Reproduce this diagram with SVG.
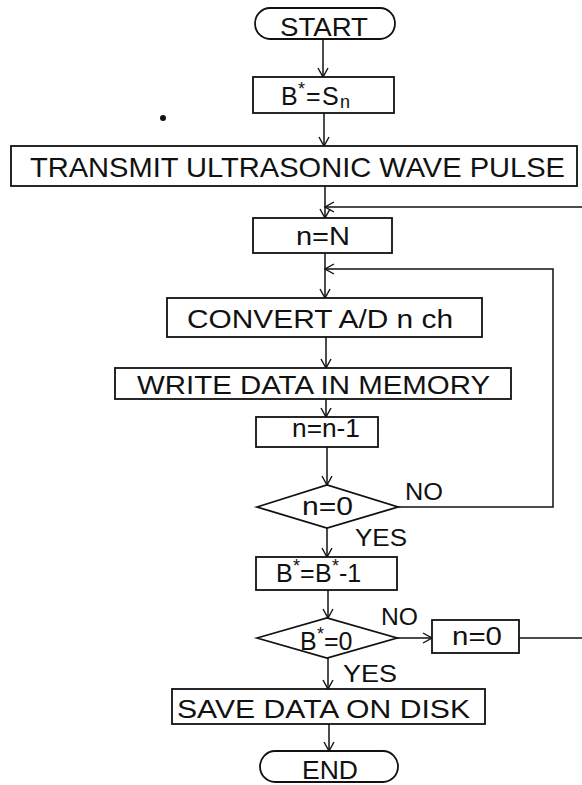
<svg xmlns="http://www.w3.org/2000/svg" width="582" height="785" viewBox="0 0 582 785">
<defs>
<marker id="arr" markerWidth="12" markerHeight="12" refX="10" refY="6" orient="auto" markerUnits="userSpaceOnUse">
<path d="M1,1 L10,6 L1,11" fill="none" stroke="#111" stroke-width="1.4"/>
</marker>
<style>
.box{fill:#fff;stroke:#111;stroke-width:1.8}
.ln{fill:none;stroke:#111;stroke-width:1.5}
.t{font-family:"Liberation Sans",Arial,sans-serif;font-size:25px;fill:#111}
.lbl{font-family:"Liberation Sans",Arial,sans-serif;font-size:24px;fill:#111}
.sup{font-size:18px}
</style>
</defs>
<rect width="582" height="785" fill="#fff"/>
<circle cx="163" cy="118" r="3" fill="#111"/>

<g id="connectors">
<line class="ln" x1="323" y1="39" x2="323" y2="77" marker-end="url(#arr)"/>
<line class="ln" x1="324" y1="113" x2="324" y2="146" marker-end="url(#arr)"/>
<line class="ln" x1="325" y1="186" x2="325" y2="218" marker-end="url(#arr)"/>
<line class="ln" x1="582" y1="207" x2="325" y2="207" marker-end="url(#arr)"/>
<line class="ln" x1="325" y1="253" x2="325" y2="298" marker-end="url(#arr)"/>
<polyline class="ln" points="398,507 553,507 553,269 325,269" marker-end="url(#arr)"/>
<line class="ln" x1="326" y1="337" x2="326" y2="368" marker-end="url(#arr)"/>
<line class="ln" x1="326" y1="399" x2="326" y2="417" marker-end="url(#arr)"/>
<line class="ln" x1="327" y1="447" x2="327" y2="485" marker-end="url(#arr)"/>
<line class="ln" x1="327" y1="528" x2="327" y2="557" marker-end="url(#arr)"/>
<line class="ln" x1="328" y1="590" x2="328" y2="618" marker-end="url(#arr)"/>
<line class="ln" x1="397" y1="638" x2="432" y2="638" marker-end="url(#arr)"/>
<line class="ln" x1="328" y1="658" x2="328" y2="689" marker-end="url(#arr)"/>
<line class="ln" x1="329" y1="724" x2="329" y2="751" marker-end="url(#arr)"/>
<line class="ln" x1="519" y1="638" x2="582" y2="638"/>
<text class="lbl" x="405" y="500" textLength="38" lengthAdjust="spacingAndGlyphs">NO</text>
<text class="lbl" x="355" y="546" textLength="52" lengthAdjust="spacingAndGlyphs">YES</text>
<text class="lbl" x="381" y="625" textLength="37" lengthAdjust="spacingAndGlyphs">NO</text>
<text class="lbl" x="343" y="682" textLength="54" lengthAdjust="spacingAndGlyphs">YES</text>
</g>

<g id="start">
<rect class="box" x="255" y="8" width="140" height="31" rx="15" ry="15.5"/>
<text class="t" x="280" y="36" textLength="88" lengthAdjust="spacingAndGlyphs">START</text>
</g>

<g id="set-b">
<rect class="box" x="253" y="77" width="141" height="36"/>
<text class="t" y="105"><tspan x="281">B</tspan><tspan class="sup" x="298" y="95">*</tspan><tspan x="306" y="105">=</tspan><tspan x="322">S</tspan><tspan class="sup" x="340" y="108">n</tspan></text>
</g>

<g id="transmit">
<rect class="box" x="11" y="146" width="566" height="40"/>
<text class="t" x="30" y="177" style="font-size:28px" textLength="535" lengthAdjust="spacingAndGlyphs">TRANSMIT ULTRASONIC WAVE PULSE</text>
</g>

<g id="set-n">
<rect class="box" x="253" y="218" width="139" height="35"/>
<text class="t" x="296" y="245" textLength="54" lengthAdjust="spacingAndGlyphs">n=N</text>
</g>

<g id="convert">
<rect class="box" x="167" y="298" width="315" height="39"/>
<text class="t" x="187" y="328" textLength="266" lengthAdjust="spacingAndGlyphs">CONVERT A/D n ch</text>
</g>

<g id="write">
<rect class="box" x="115" y="368" width="396" height="31"/>
<text class="t" x="137" y="394" textLength="353" lengthAdjust="spacingAndGlyphs">WRITE DATA IN MEMORY</text>
</g>

<g id="decrement-n">
<rect class="box" x="256" y="417" width="122" height="30"/>
<text class="t" x="292" y="437" textLength="68" lengthAdjust="spacingAndGlyphs">n=n-1</text>
</g>

<g id="test-n">
<polygon class="box" points="257,507 327,485 398,507 327,528"/>
<text class="t" x="302" y="515" textLength="51" lengthAdjust="spacingAndGlyphs">n=0</text>
</g>

<g id="decrement-b">
<rect class="box" x="256" y="557" width="141" height="33"/>
<text class="t" y="582"><tspan x="276">B</tspan><tspan class="sup" x="293" y="572">*</tspan><tspan x="300" y="582">=</tspan><tspan x="315">B</tspan><tspan class="sup" x="332" y="572">*</tspan><tspan x="339" y="582">-1</tspan></text>
</g>

<g id="test-b">
<polygon class="box" points="257,638 327,618 397,638 327,658"/>
<text class="t" y="650"><tspan x="300">B</tspan><tspan class="sup" x="317" y="640">*</tspan><tspan x="324" y="650">=0</tspan></text>
</g>

<g id="reset-n">
<rect class="box" x="432" y="620" width="87" height="33"/>
<text class="t" x="452" y="645" textLength="50" lengthAdjust="spacingAndGlyphs">n=0</text>
</g>

<g id="save">
<rect class="box" x="172" y="689" width="313" height="35"/>
<text class="t" x="177" y="718" textLength="293" lengthAdjust="spacingAndGlyphs">SAVE DATA ON DISK</text>
</g>

<g id="end">
<rect class="box" x="260" y="751" width="138" height="31" rx="15" ry="15.5"/>
<text class="t" x="302" y="779" textLength="56" lengthAdjust="spacingAndGlyphs">END</text>
</g>
</svg>
